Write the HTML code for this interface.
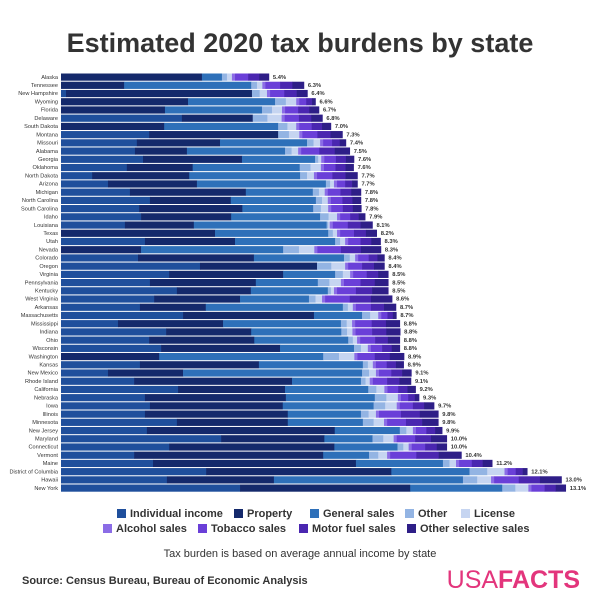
<!DOCTYPE html>
<html><head><meta charset="utf-8"><style>
body{margin:0;background:#fff;width:600px;height:600px;overflow:hidden;font-family:"Liberation Sans",sans-serif}
</style></head><body>
<svg id="c" width="600" height="600" xmlns="http://www.w3.org/2000/svg">
<text x="300" y="52" text-anchor="middle" font-size="27" font-weight="bold" fill="#333">Estimated 2020 tax burdens by state</text>
<g id="bars"></g>
<g id="legend"></g>
<text x="300" y="557" text-anchor="middle" font-size="11" fill="#333">Tax burden is based on average annual income by state</text>
<text x="22" y="584" font-size="11" font-weight="bold" fill="#333">Source: Census Bureau, Bureau of Economic Analysis</text>
<text x="580" y="588" text-anchor="end" font-size="25" fill="#e3357c"><tspan>USA</tspan><tspan font-weight="bold">FACTS</tspan></text>
</svg>
<script>
const states=["Alaska","Tennessee","New Hampshire","Wyoming","Florida","Delaware","South Dakota","Montana","Missouri","Alabama","Georgia","Oklahoma","North Dakota","Arizona","Michigan","North Carolina","South Carolina","Idaho","Louisiana","Texas","Utah","Nevada","Colorado","Oregon","Virginia","Pennsylvania","Kentucky","West Virginia","Arkansas","Massachusetts","Mississippi","Indiana","Ohio","Wisconsin","Washington","Kansas","New Mexico","Rhode Island","California","Nebraska","Iowa","Illinois","Minnesota","New Jersey","Maryland","Connecticut","Vermont","Maine","District of Columbia","Hawaii","New York"];
const totalLabels=["5.4%","6.3%","6.4%","6.6%","6.7%","6.8%","7.0%","7.3%","7.4%","7.5%","7.6%","7.6%","7.7%","7.7%","7.8%","7.8%","7.8%","7.9%","8.1%","8.2%","8.3%","8.3%","8.4%","8.4%","8.5%","8.5%","8.5%","8.6%","8.7%","8.7%","8.8%","8.8%","8.8%","8.8%","8.9%","8.9%","9.1%","9.1%","9.2%","9.3%","9.7%","9.8%","9.8%","9.9%","10.0%","10.0%","10.4%","11.2%","12.1%","13.0%","13.1%"];
const income=[0,0,.13,0,0,3.14,0,2.29,1.97,1.92,2.13,1.71,.81,1.22,1.79,2.31,2.03,2.08,1.66,0,2.18,0,2.0,3.61,2.81,2.31,3.01,2.42,2.05,3.17,1.48,2.73,2.29,2.60,0,2.05,1.22,1.90,3.04,2.18,2.31,2.18,3.01,2.23,4.16,2.81,1.90,2.39,3.77,2.75,4.65];
const property=[3.66,1.64,4.83,3.30,2.70,1.84,2.68,3.35,2.16,1.35,2.57,1.71,2.52,2.31,3.01,2.10,2.68,2.34,1.79,4.0,2.34,2.08,3.01,3.04,2.96,2.75,1.92,2.23,1.71,3.40,2.73,2.21,2.73,3.09,2.55,3.09,1.95,4.10,2.78,3.66,3.45,3.71,2.88,4.88,2.68,4.29,4.91,5.27,4.81,2.78,4.42];
const generalSales=[.52,3.30,0,2.26,2.52,0,2.96,0,2.26,2.55,1.90,2.78,2.88,3.35,1.74,2.21,1.84,2.31,3.45,2.94,2.60,3.69,2.34,0,1.35,1.61,2.0,1.79,3.56,1.25,3.06,2.34,2.44,1.92,4.26,2.70,4.65,1.79,2.16,2.31,2.36,1.90,1.95,1.69,1.25,1.64,1.19,2.26,2.03,4.91,2.39];
const otherTax=[.13,.15,.2,.28,.26,.38,.24,.28,.17,.17,.08,.28,.18,.11,.16,.16,.2,.22,.04,.12,.13,.41,.15,.37,.2,.3,.08,.17,.13,.21,.15,.15,.12,.18,.41,.13,.18,.12,.21,.3,.3,.2,.28,.17,.28,.15,.24,.17,.46,.37,.34];
const license=[.13,.14,.19,.27,.26,.37,.23,.27,.17,.17,.08,.27,.18,.10,.15,.15,.19,.22,.04,.11,.13,.40,.14,.36,.19,.30,.08,.17,.13,.21,.14,.14,.11,.18,.40,.13,.18,.11,.21,.30,.30,.19,.27,.17,.27,.14,.23,.17,.45,.36,.34];
const alcohol=[.08,.08,.08,.08,.08,.08,.08,.08,.08,.08,.08,.08,.08,.08,.08,.08,.08,.08,.08,.08,.08,.08,.08,.08,.08,.08,.08,.08,.08,.08,.08,.08,.08,.08,.08,.08,.08,.08,.08,.08,.08,.08,.08,.08,.08,.08,.08,.08,.08,.08,.08];
const tobacco=[.34,.38,.37,.18,.34,.37,.32,.39,.23,.47,.30,.30,.40,.21,.33,.30,.30,.26,.39,.36,.32,.61,.27,.36,.35,.43,.49,.64,.39,.16,.43,.43,.39,.29,.45,.28,.32,.37,.28,.19,.34,.57,.49,.27,.48,.35,.68,.33,.21,.64,.34];
const motorFuel=[.29,.32,.32,.15,.29,.32,.27,.34,.20,.40,.26,.26,.34,.18,.28,.26,.26,.22,.33,.31,.28,.52,.23,.31,.30,.37,.42,.55,.34,.14,.37,.37,.33,.25,.39,.24,.28,.32,.24,.17,.29,.49,.42,.23,.41,.30,.58,.28,.18,.55,.29];
const otherSelective=[.25,.30,.28,.09,.25,.29,.23,.31,.16,.39,.21,.21,.31,.14,.25,.22,.22,.17,.31,.28,.24,.52,.18,.27,.26,.35,.42,.55,.31,.09,.36,.36,.31,.21,.37,.20,.24,.30,.21,.11,.26,.48,.42,.18,.41,.26,.59,.25,.12,.56,.26];
const seriesNames=["Individual income","Property","General sales","Other","License","Alcohol sales","Tobacco sales","Motor fuel sales","Other selective sales"];
const seriesData=[income,property,generalSales,otherTax,license,alcohol,tobacco,motorFuel,otherSelective];
const colors=["#1f4f9c","#14296b","#2e70b9","#93b4e3","#c6d5f1","#8b6ce6","#6a3fd8","#4a26b0","#2e1e87"];
const NS="http://www.w3.org/2000/svg";
const x0=61,pxPer=38.5,y0=73.5,step=8.22,bh=7.2;
const xScale=v=>x0+v*pxPer;
const yScale=i=>y0+i*step;
const g=document.getElementById('bars');
function mk(t,a){const e=document.createElementNS(NS,t);for(const k in a)e.setAttribute(k,a[k]);return e;}
states.forEach((s,i)=>{
  const y=yScale(i);
  const lab=mk('text',{x:58,y:y+5.3,'text-anchor':'end','font-size':5.6,fill:'#333'});
  lab.textContent=s;
  
  
  g.appendChild(lab);
  let cum=0;
  seriesData.forEach((arr,k)=>{
    const v=arr[i];
    if(v>0){
      const r=mk('rect',{x:xScale(cum),y:y,width:v*pxPer+0.3,height:bh,fill:colors[k]});
      
      
      g.appendChild(r);
    }
    cum+=v;
  });
  const vl=mk('text',{x:xScale(cum)+4,y:y+5.3,'font-size':5.8,'font-weight':'bold',fill:'#333'});
  vl.textContent=totalLabels[i];
  
  
  g.appendChild(vl);
});
const lg=document.getElementById('legend');
const pos=[[117,517],[234,517],[310,517],[405,517],[461,517],[103,532],[198,532],[299,532],[407,532]];
seriesNames.forEach((n,k)=>{
  const [lx,ly]=pos[k];
  const sq=mk('rect',{x:lx,y:ly-8,width:9,height:9,fill:colors[k]});
  
  
  lg.appendChild(sq);
  const t=mk('text',{x:lx+13,y:ly,'font-size':11,'font-weight':'bold',fill:'#333'});
  t.textContent=n;
  
  
  lg.appendChild(t);
});
</script>
</body></html>
